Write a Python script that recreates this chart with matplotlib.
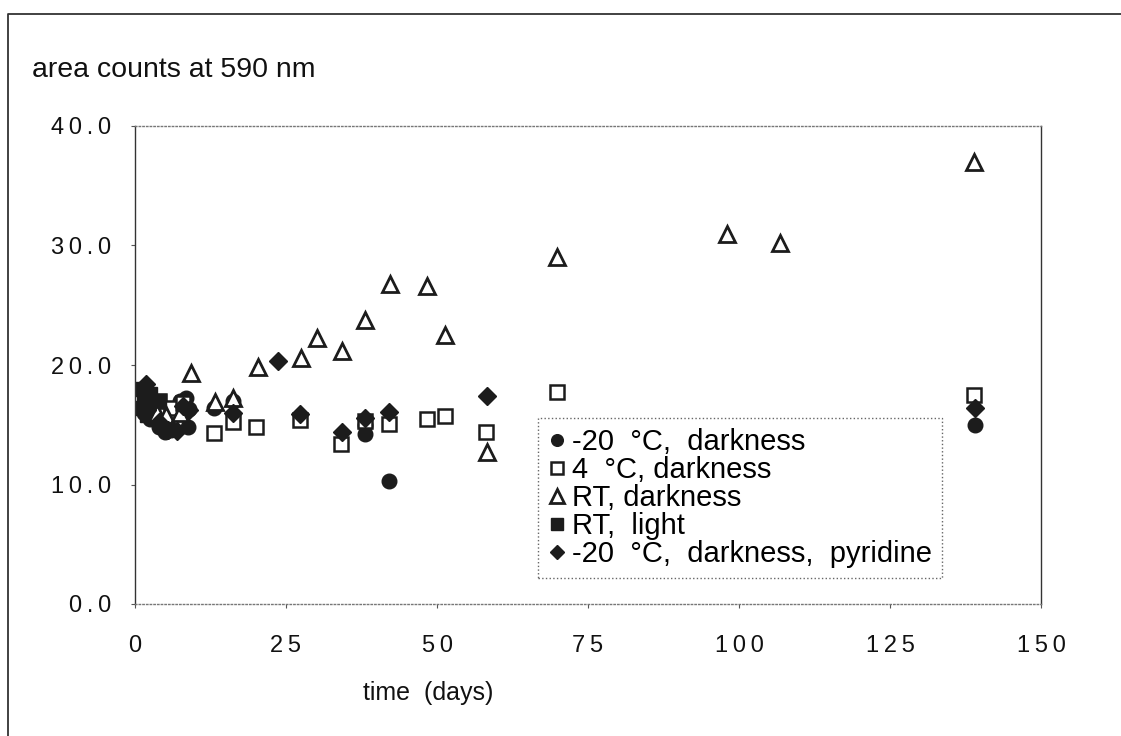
import numpy as np
import matplotlib
matplotlib.use("Agg")
import matplotlib.pyplot as plt
import matplotlib.ticker as ticker
from matplotlib.lines import Line2D

plt.rcParams['font.family'] = ['Liberation Sans', 'DejaVu Sans']

# --- Data ---
days_cold = [1.5, 2.5, 4, 5, 6, 7.5, 8.5, 8.8, 9, 13, 16.3, 38, 38, 42, 139]
area_cold = [16.0, 15.5, 14.8, 14.4, 14.6, 17.0, 17.2, 14.8, 16.3, 16.4, 17.0, 14.2, 15.0, 10.3, 15.0]

days_4c = [2, 4, 6, 8, 13.1, 16.2, 20.1, 27.3, 34.1, 38, 42, 48.3, 51.3, 58.1, 69.9, 138.9]
area_4c = [17.4, 17.0, 16.4, 16.8, 14.3, 15.2, 14.8, 15.4, 13.4, 15.3, 15.1, 15.5, 15.7, 14.4, 17.7, 17.5]

days_rt = [3.6, 5.2, 7.5, 9.2, 13.2, 16.3, 20.3, 27.5, 30.1, 34.2, 38.1, 42.2, 48.4, 51.4, 58.3, 69.9, 98, 106.8, 138.9]
area_rt = [16.0, 15.8, 16.0, 19.3, 16.9, 17.2, 19.8, 20.6, 22.3, 21.2, 23.8, 26.8, 26.6, 22.5, 12.7, 29.0, 31.0, 30.2, 37.0]

days_light = [1, 1, 1.5, 2, 2.5, 3, 4]
area_light = [18.0, 16.4, 17.2, 15.8, 17.6, 16.6, 17.0]

days_pyr = [1.8, 2, 4, 5.5, 7, 8, 9, 16.3, 23.6, 27.4, 34.2, 38, 42, 58.2, 139]
area_pyr = [18.4, 16.2, 15.2, 14.6, 14.5, 16.6, 16.2, 16.0, 20.3, 15.9, 14.4, 15.6, 16.1, 17.4, 16.4]

labels = ['-20  °C,  darkness', '4  °C, darkness', 'RT, darkness',
          'RT,  light', '-20  °C,  darkness,  pyridine']

x_ticks = [0, 25, 50, 75, 100, 125, 150]
y_ticks = [0.0, 10.0, 20.0, 30.0, 40.0]

INK = '#1c1c1c'
W, H = 1121, 736


def spaced(s):
    # the old plot software used wide letter spacing on the tick labels
    return '\u2009'.join(s)


fig = plt.figure(figsize=(W / 100, H / 100), dpi=100)
ax = fig.add_axes([135 / W, 1 - 604 / H, (1041 - 135) / W, (604 - 126) / H])

# draw order matters: open triangles sit on top of the dark blob
h_cold, = ax.plot(days_cold, area_cold, 'o', ms=10.5, mfc=INK, mec=INK, mew=1, ls='none')
h_4c, = ax.plot(days_4c, area_4c, 's', ms=10, mfc='white', mec=INK, mew=1.8, ls='none')
h_light, = ax.plot(days_light, area_light, 's', ms=10.5, mfc=INK, mec=INK, mew=1, ls='none')
h_rt, = ax.plot(days_rt, area_rt, '^', ms=12, mfc='white', mec=INK, mew=2, ls='none')
h_pyr, = ax.plot(days_pyr, area_pyr, 'D', ms=9, mfc=INK, mec=INK, mew=1, ls='none')

ax.set_xlim(0, 150)
ax.set_ylim(0, 40)
ax.set_xticks(x_ticks)
ax.set_yticks(y_ticks)
ax.xaxis.set_major_formatter(ticker.FuncFormatter(lambda v, p: spaced(f'{v:.0f}')))
ax.yaxis.set_major_formatter(ticker.FuncFormatter(lambda v, p: spaced(f'{v:.1f}')))
ax.tick_params(axis='both', direction='out', length=3, width=0.8, color='#555555',
               labelsize=17, labelcolor='#111111')
ax.tick_params(axis='x', pad=19)
ax.tick_params(axis='y', pad=14)

for side in ('top', 'bottom'):
    ax.spines[side].set_linestyle(':')
    ax.spines[side].set_color('#777777')
    ax.spines[side].set_linewidth(1.0)
for side in ('left', 'right'):
    ax.spines[side].set_color('#333333')
    ax.spines[side].set_linewidth(1.0)

leg = ax.legend([h_cold, h_4c, h_rt, h_light, h_pyr], labels,
                loc='upper left', bbox_to_anchor=(538 / W, 1 - 418 / H),
                bbox_transform=fig.transFigure, fontsize=21, markerscale=0.8,
                handlelength=0.6, handletextpad=0.2, labelspacing=0.0,
                borderpad=0.35, borderaxespad=0, fancybox=False, framealpha=1)
leg.get_frame().set_linestyle(':')
leg.get_frame().set_edgecolor('#666666')
leg.get_frame().set_linewidth(1.0)

fig.text(32 / W, 1 - 77 / H, 'area counts at 590 nm', fontsize=20.5,
         ha='left', va='baseline', color='#111111')
fig.text(428 / W, 1 - 700 / H, 'time  (days)', fontsize=18,
         ha='center', va='baseline', color='#111111')

# frame around the whole figure (left and top edges visible on the scan)
fig.add_artist(Line2D([8 / W, 8 / W, 1.0], [0.0, 1 - 14 / H, 1 - 14 / H],
                      transform=fig.transFigure, color='#333333', lw=1.3))

fig.savefig('out.png', dpi=100)
